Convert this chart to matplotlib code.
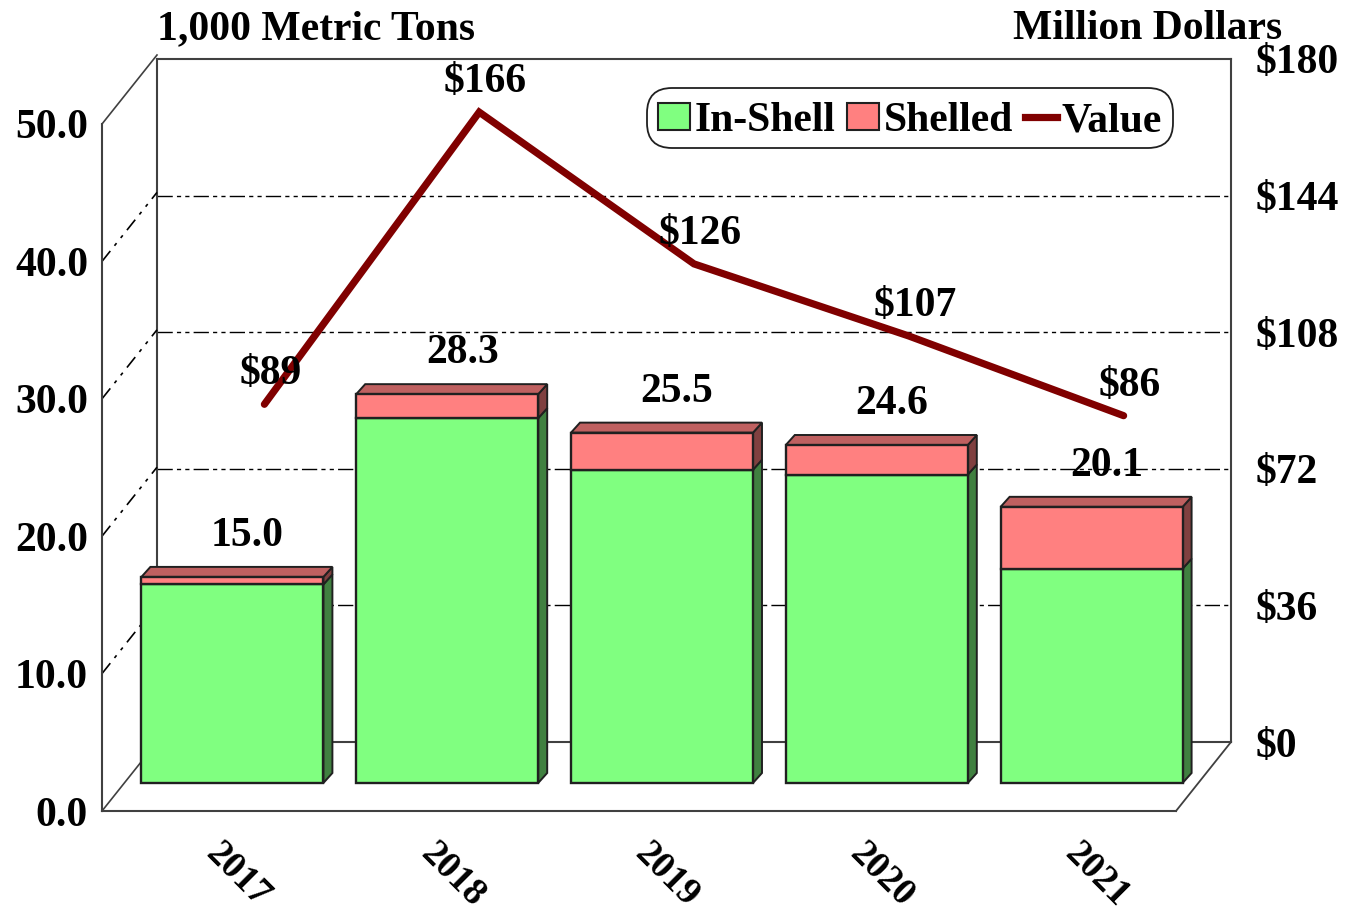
import matplotlib
matplotlib.use("Agg")
import matplotlib.pyplot as plt
from matplotlib.patches import Patch
from matplotlib.lines import Line2D
from matplotlib.transforms import Affine2D
import numpy as np

years = ["2017", "2018", "2019", "2020", "2021"]
in_shell = [14.45, 26.55, 22.8, 22.45, 15.6]
shelled = [0.55, 1.75, 2.7, 2.15, 4.5]
totals = ["15.0", "28.3", "25.5", "24.6", "20.1"]
value = [89, 166, 126, 107, 86]
value_labels = ["$89", "$166", "$126", "$107", "$86"]
left_ticks = [0, 10, 20, 30, 40, 50]
right_ticks = [0, 36, 72, 108, 144, 180]

W, H = 1352, 917
plt.rcParams["font.family"] = ["Liberation Serif", "DejaVu Serif"]
plt.rcParams["font.weight"] = "bold"
FS = 30
FRAME = "#404040"
EDGE = "#202020"
GREEN, GREEN_SIDE = "#80FF80", "#408040"
RED, RED_TOP, RED_SIDE = "#FF8080", "#BF6060", "#804040"
DARK = "#800000"
GRID_DASH = (0, (11, 3, 3, 3, 3, 3))


def box(x0, x1, ytop, ybot):
    return [x0 / W, 1 - ybot / H, (x1 - x0) / W, (ybot - ytop) / H]


fig = plt.figure(figsize=(W / 100, H / 100), dpi=100, facecolor="white")

# back wall: value axis
back = fig.add_axes(box(157, 1231, 59, 742), zorder=1)
back.set_xlim(-0.5, 4.5)
back.set_ylim(0, 180)
back.set_xticks([])
back.yaxis.tick_right()
back.set_yticks(right_ticks, [f"${v}" for v in right_ticks], fontsize=FS, fontweight="bold")
back.tick_params(axis="y", length=0, pad=18)
for s in back.spines.values():
    s.set_color(FRAME)
    s.set_linewidth(1.5)
for v in right_ticks[1:-1]:
    back.axhline(v, color="black", lw=1.0, ls=GRID_DASH, zorder=0.5)

# front plane: quantity axis
ax = fig.add_axes(box(102, 1176, 124, 811), zorder=2)
ax.patch.set_visible(False)
ax.set_xlim(-0.5, 4.5)
ax.set_ylim(0, 50)
for name in ("top", "right"):
    ax.spines[name].set_visible(False)
for name in ("left", "bottom"):
    ax.spines[name].set_color(FRAME)
    ax.spines[name].set_linewidth(1.5)
ax.set_yticks(left_ticks, [f"{v:.1f}" for v in left_ticks], fontsize=FS, fontweight="bold")
ax.tick_params(axis="y", length=0, pad=10)

px_x = 5 / (1176 - 102)   # data units per pixel
px_y = 50 / (811 - 124)
DEPTH_X, DEPTH_Y = 55 * px_x, 69 * px_y
BAR_X, BASE = 23 * px_x, 28 * px_y
SIDE_X, SIDE_Y = 9 * px_x, 10 * px_y
BAR_W = 182 * px_x

# side-wall and floor edges
for v in left_ticks:
    ax.plot([-0.5, -0.5 + DEPTH_X], [v, v + DEPTH_Y], color=FRAME if v in (0, 50) else "black",
            lw=1.2, clip_on=False, zorder=1,
            ls="-" if v in (0, 50) else (0, (8, 4, 2, 4, 2, 4)))
ax.plot([4.5, 4.5 + DEPTH_X], [0, DEPTH_Y], color=FRAME, lw=1.3, clip_on=False, zorder=1)

# bars
x = np.arange(len(years)) + BAR_X
ins = np.array(in_shell)
she = np.array(shelled)
ax.bar(x, ins, BAR_W, bottom=BASE, color=GREEN, edgecolor=EDGE, lw=1.7, zorder=3, clip_on=False)
ax.bar(x, she, BAR_W, bottom=BASE + ins, color=RED, edgecolor=EDGE, lw=1.7, zorder=3, clip_on=False)
for xi, a, b in zip(x, ins, she):
    r = xi + BAR_W / 2
    l = xi - BAR_W / 2
    y0, y1, y2 = BASE, BASE + a, BASE + a + b
    ax.fill([r, r + SIDE_X, r + SIDE_X, r], [y0, y0 + SIDE_Y, y1 + SIDE_Y, y1],
            facecolor=GREEN_SIDE, edgecolor=EDGE, lw=1.4, zorder=2.5, clip_on=False)
    ax.fill([r, r + SIDE_X, r + SIDE_X, r], [y1, y1 + SIDE_Y, y2 + SIDE_Y, y2],
            facecolor=RED_SIDE, edgecolor=EDGE, lw=1.4, zorder=2.5, clip_on=False)
    ax.fill([l, l + SIDE_X, r + SIDE_X, r], [y2, y2 + SIDE_Y, y2 + SIDE_Y, y2],
            facecolor=RED_TOP, edgecolor=EDGE, lw=1.4, zorder=2.5, clip_on=False)

for xi, a, b, t in zip(x, ins, she, totals):
    ax.annotate(t, (xi, BASE + a + b), xytext=(15, 41), textcoords="offset pixels",
                ha="center", va="center", fontsize=FS, fontweight="bold", zorder=5)

ax.set_xticks(np.arange(len(years)) + 28 * px_x, years, rotation=-45, ha="center", va="top",
              fontsize=27, fontweight="bold")
ax.tick_params(axis="x", length=0, pad=18)

# value line, above the front plane
top = fig.add_axes(box(157, 1231, 59, 742), zorder=3)
top.patch.set_visible(False)
top.axis("off")
top.set_xlim(-0.5, 4.5)
top.set_ylim(0, 180)
for i, (v, t) in enumerate(zip(value, value_labels)):
    top.annotate(t, (i, v), xytext=(6, 30), textcoords="offset pixels",
                 ha="center", va="center", fontsize=FS, fontweight="bold")
line, = top.plot(range(len(years)), value, color=DARK, lw=5.2, solid_joinstyle="miter",
                 solid_capstyle="round", clip_on=False)

fig.text(157 / W, 1 - 29 / H, "1,000 Metric Tons", ha="left", va="center", fontsize=FS, fontweight="bold")
fig.text(1282 / W, 1 - 29 / H, "Million Dollars", ha="right", va="center", fontsize=FS, fontweight="bold")

handles = [Patch(facecolor=GREEN, edgecolor=EDGE, lw=1.5),
           Patch(facecolor=RED, edgecolor=EDGE, lw=1.5),
           Line2D([], [], color=DARK, lw=5.2)]
leg = top.legend(handles, ["In-Shell", "Shelled", "Value"], ncol=3, fontsize=FS,
                 loc="center", bbox_to_anchor=(910 / W, 1 - 121 / H), bbox_transform=fig.transFigure,
                 frameon=True, fancybox=True, framealpha=1, edgecolor="#202020", facecolor="white",
                 handlelength=0.77, handleheight=0.62, handletextpad=0.12, columnspacing=0.27,
                 borderpad=0.27, borderaxespad=0)
leg.get_frame().set_linewidth(1.3)
leg.get_frame().set_boxstyle("round", pad=0, rounding_size=0.6)
leg.get_frame().set_transform(Affine2D().translate(0, 3))

fig.savefig("out.png", dpi=100, facecolor="white")
